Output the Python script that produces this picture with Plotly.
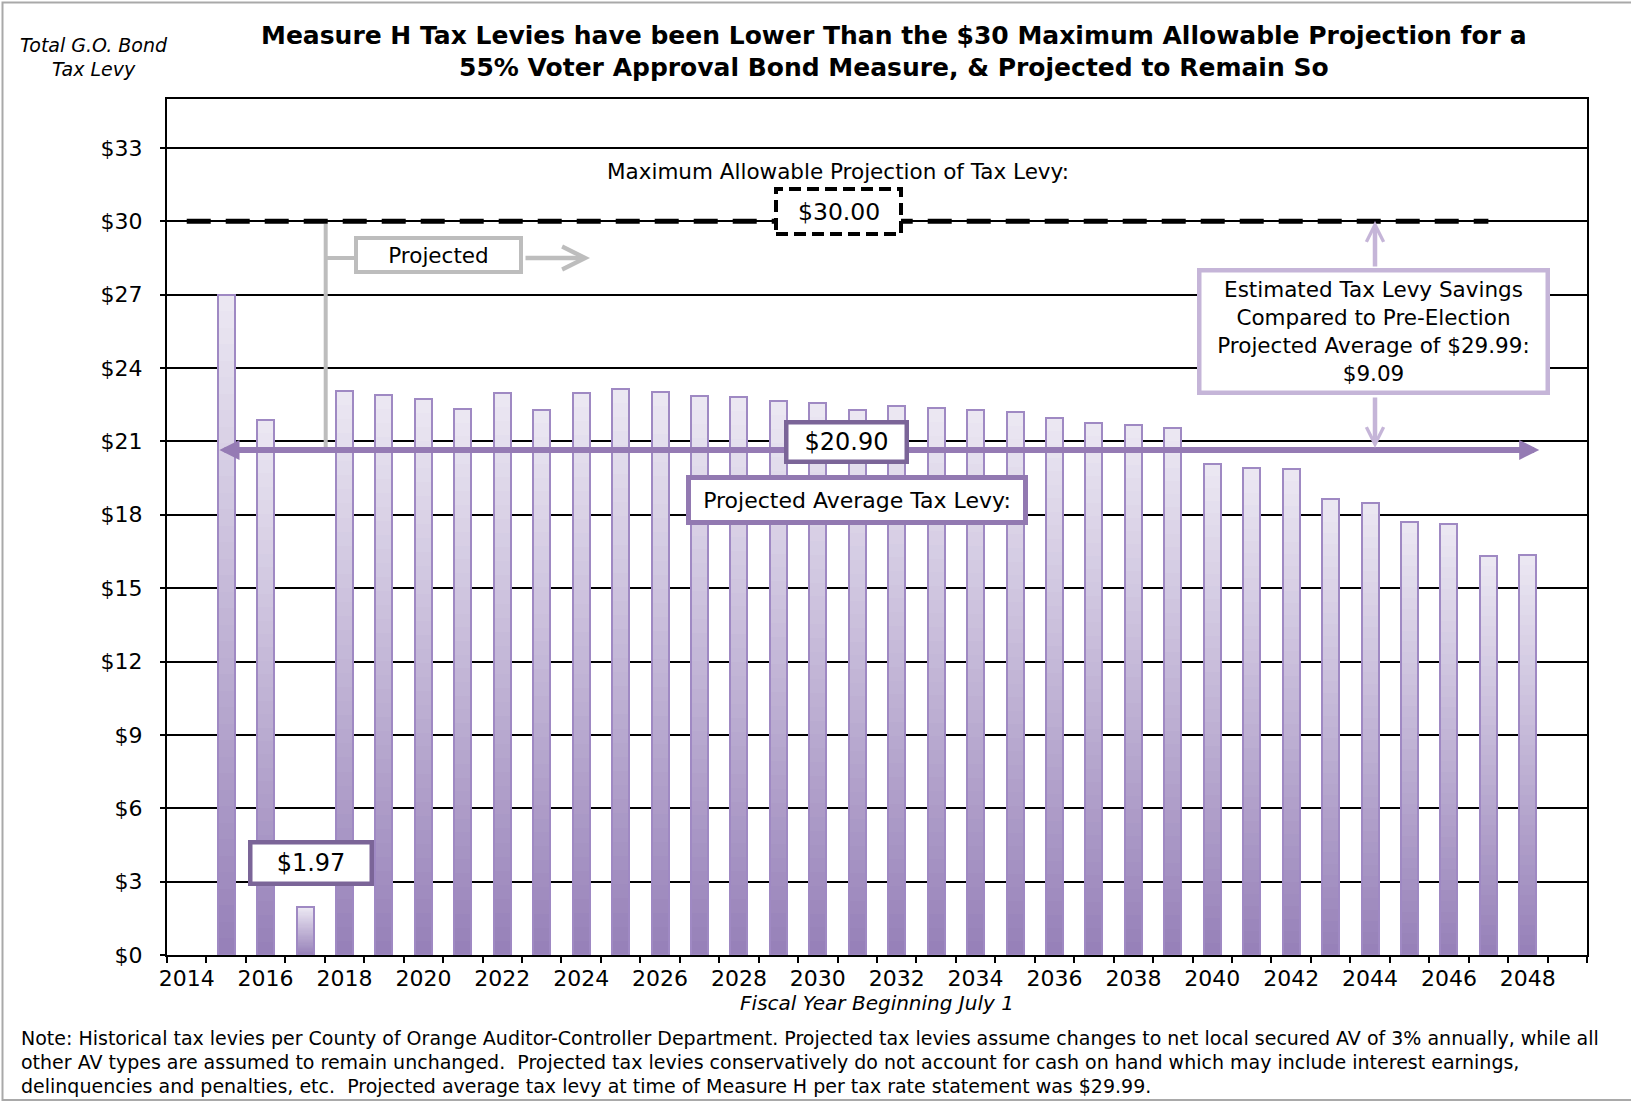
import plotly.graph_objects as go

# ---------------- data ----------------
bar_years = list(range(2015, 2049))
levy = [27.00, 21.88, 1.97, 23.08, 22.88, 22.74, 22.32, 22.99, 22.30, 22.99,
        23.15, 23.04, 22.87, 22.80, 22.64, 22.56, 22.28, 22.43, 22.35, 22.30,
        22.19, 21.97, 21.76, 21.67, 21.54, 20.09, 19.90, 19.86, 18.65, 18.49,
        17.69, 17.61, 16.32, 16.36]
label_years = list(range(2014, 2049, 2))
max_levy = 30.00
max_line_years = [2014, 2047]
projected_avg = 20.90
avg_arrow_level = 20.65
avg_arrow_x = [2014.79, 2048.29]
pre_election_avg = 29.99
savings = 9.09
y_ticks = list(range(0, 34, 3))

# ---------------- geometry helpers (pixel -> paper) ----------------
W, H = 1631, 1104
L, R, T, B = 167, 1587, 99, 955


def px(x):
    return (x - L) / (R - L)


def py(y):
    return (B - y) / (B - T)


FONT = "DejaVu Sans"
TOP = (236, 232, 243)
BOT = (150, 128, 184)
NSL = 40
BARW = 0.43

fig = go.Figure()

# gradient bars built from stacked slices of each bar's own value
for k in range(NSL):
    t = (k + 0.5) / NSL
    c = tuple(round(BOT[i] + (TOP[i] - BOT[i]) * t) for i in range(3))
    fig.add_trace(go.Bar(
        x=bar_years, y=[v / NSL for v in levy], base=[v * k / NSL for v in levy],
        width=BARW, marker=dict(color="rgb(%d,%d,%d)" % c, line=dict(width=0)),
        hoverinfo="skip", showlegend=False))
# outline
fig.add_trace(go.Bar(
    x=bar_years, y=levy, width=BARW,
    marker=dict(color="rgba(0,0,0,0)", line=dict(color="#9f89c3", width=2)),
    showlegend=False))

# maximum allowable dashed line
fig.add_trace(go.Scatter(
    x=max_line_years, y=[max_levy, max_levy], mode="lines",
    line=dict(color="black", width=5, dash="24px,15px"), showlegend=False,
    hoverinfo="skip"))

shapes = []
annotations = []

# figure border
shapes.append(dict(type="rect", xref="paper", yref="paper",
                   x0=px(2.5), x1=px(1650), y0=py(1100), y1=py(2.5),
                   line=dict(color="#a9a9a9", width=2), layer="above"))

# projected bracket
GRAY = "#bdbdbd"
shapes.append(dict(type="line", xref="paper", yref="paper",
                   x0=px(325.7), x1=px(325.7), y0=py(224), y1=py(453),
                   line=dict(color=GRAY, width=4), layer="above"))
shapes.append(dict(type="line", xref="paper", yref="paper",
                   x0=px(325.7), x1=px(356), y0=py(258), y1=py(258),
                   line=dict(color=GRAY, width=4), layer="above"))

# $30.00 dashed box
shapes.append(dict(type="rect", xref="paper", yref="paper",
                   x0=px(776), x1=px(901), y0=py(234), y1=py(189),
                   fillcolor="white", line=dict(color="black", width=4, dash="12px,6px"),
                   layer="above"))


def text_ann(x, y, text, size, bold=False, italic=False, anchor="center", **kw):
    if bold:
        text = "<b>" + text + "</b>"
    if italic:
        text = "<i>" + text + "</i>"
    d = dict(xref="paper", yref="paper", x=px(x), y=py(y), text=text,
             showarrow=False, xanchor=anchor, yanchor="middle",
             font=dict(family=FONT, size=size, color="black"))
    d.update(kw)
    return d


# titles
annotations.append(text_ann(894, 35, "Measure H Tax Levies have been Lower Than the $30 Maximum Allowable Projection for a", 25, bold=True))
annotations.append(text_ann(894, 67, "55% Voter Approval Bond Measure, & Projected to Remain So", 25, bold=True))
annotations.append(text_ann(94, 45, "Total G.O. Bond", 19, italic=True))
annotations.append(text_ann(94, 69, "Tax Levy", 19, italic=True))

# maximum text
annotations.append(text_ann(838, 172, "Maximum Allowable Projection of Tax Levy:", 21.5))
annotations.append(text_ann(838.5, 211.5, "$%.2f" % max_levy, 23.5))

# projected box + arrow
annotations.append(text_ann(438.5, 255, "Projected", 21.5, width=161, height=30,
                            bgcolor="white", bordercolor=GRAY, borderwidth=4, borderpad=0))
annotations.append(dict(xref="paper", yref="paper", x=px(590), y=py(258),
                        ax=-66, ay=0, text="", showarrow=True, arrowhead=5,
                        arrowwidth=4.5, arrowsize=1, arrowcolor=GRAY, standoff=0))

# average arrow
annotations.append(dict(xref="x", yref="y", x=avg_arrow_x[1], y=avg_arrow_level,
                        axref="x", ayref="y", ax=avg_arrow_x[0], ay=avg_arrow_level,
                        text="", showarrow=True, arrowside="end+start",
                        arrowhead=2, startarrowhead=2, arrowwidth=6,
                        arrowsize=0.67, startarrowsize=0.67, arrowcolor="#957bb4",
                        standoff=0, startstandoff=0))

# savings arrows
LP = "#c5b5d8"
annotations.append(dict(xref="paper", yref="paper", x=px(1375), y=py(221),
                        ax=0, ay=47, text="", showarrow=True, arrowhead=5,
                        arrowwidth=4.5, arrowsize=0.75, arrowcolor=LP, standoff=0))
annotations.append(dict(xref="paper", yref="paper", x=px(1375), y=py(448),
                        ax=0, ay=-52, text="", showarrow=True, arrowhead=5,
                        arrowwidth=4.5, arrowsize=0.75, arrowcolor=LP, standoff=0))

# boxes
annotations.append(text_ann(846.5, 442, "$%.2f" % projected_avg, 24, width=116, height=35,
                            bgcolor="white", bordercolor="#7b6598", borderwidth=4.5, borderpad=0))
annotations.append(text_ann(857, 500, "Projected Average Tax Levy:", 22, width=332, height=40,
                            bgcolor="white", bordercolor="#9279b1", borderwidth=5, borderpad=0))
annotations.append(text_ann(311, 863, "$%.2f" % levy[2], 24, width=117, height=37,
                            bgcolor="white", bordercolor="#7b6598", borderwidth=4.5, borderpad=0))
annotations.append(text_ann(1373.5, 331.5,
                            ("Estimated Tax Levy Savings<br>Compared to Pre-Election<br>"
                             "Projected Average of $%.2f:<br>$%.2f" % (pre_election_avg, savings)),
                            21.5, width=344, height=118, align="center",
                            bgcolor="white", bordercolor=LP, borderwidth=4.5, borderpad=0))

# note (three lines)
note_lines = [
    "Note: Historical tax levies per County of Orange Auditor-Controller Department. "
    "Projected tax levies assume changes to net local secured AV of 3% annually, while all",
    "other AV types are assumed to remain unchanged.  Projected tax levies conservatively "
    "do not account for cash on hand which may include interest earnings,",
    "delinquencies and penalties, etc.  Projected average tax levy at time of Measure H "
    "per tax rate statement was $" + "%.2f." % pre_election_avg,
]
for i, line in enumerate(note_lines):
    annotations.append(text_ann(19, 1038 + 24 * i, line, 19, anchor="left"))

fig.update_layout(
    width=W, height=H,
    margin=dict(l=L, r=W - R, t=T, b=H - B, pad=0),
    paper_bgcolor="white", plot_bgcolor="white",
    barmode="overlay", bargap=0,
    showlegend=False,
    font=dict(family=FONT, size=20, color="black"),
    shapes=shapes, annotations=annotations,
    xaxis=dict(
        range=[2013.5, 2049.5], tickmode="array", tickvals=label_years,
        ticktext=[str(y) for y in label_years], ticks="", showgrid=False,
        showline=True, linecolor="black", linewidth=2, mirror=True,
        tickfont=dict(family=FONT, size=22, color="black"),
        ticklabelstandoff=3,
        minor=dict(tick0=2013.5, dtick=1, ticks="outside", ticklen=6,
                   tickwidth=2, tickcolor="black", showgrid=False),
        title=dict(text="<i>Fiscal Year Beginning July 1</i>", standoff=6,
                   font=dict(family=FONT, size=20, color="black")),
        zeroline=False,
    ),
    yaxis=dict(
        range=[0, 35], tickmode="array", tickvals=y_ticks,
        ticktext=["$%d" % v for v in y_ticks], ticks="outside", ticklen=5,
        tickwidth=2, tickcolor="black", showgrid=True, gridcolor="black",
        gridwidth=2, showline=True, linecolor="black", linewidth=2, mirror=True,
        tickfont=dict(family=FONT, size=22, color="black"),
        ticklabelstandoff=13, zeroline=False,
    ),
)

fig.write_html("out.html", config={"displayModeBar": False},
               post_script="document.body.style.margin='0px';")
